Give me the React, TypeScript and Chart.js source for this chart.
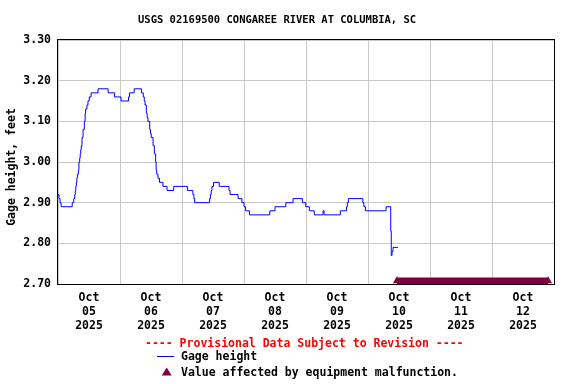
import React, { useEffect, useRef } from 'react';
import { Chart, registerables } from 'chart.js';

Chart.register(...registerables);

const TITLE = 'USGS 02169500 CONGAREE RIVER AT COLUMBIA, SC';
const Y_TITLE = 'Gage height, feet';
const PROVISIONAL = '---- Provisional Data Subject to Revision ----';
const SERIES_LABEL = 'Gage height';
const MARKER_LABEL = 'Value affected by equipment malfunction.';

// x axis: hours since Oct 05 2025 00:00
const DAY_LABELS = ['05', '06', '07', '08', '09', '10', '11', '12'];
const MONTH_LABEL = 'Oct';
const YEAR_LABEL = '2025';
const X_MIN = 0;
const X_MAX = 192;
const Y_TICKS = [2.7, 2.8, 2.9, 3.0, 3.1, 3.2, 3.3];

// gage height level changes (hour, feet)
const gageHours = [
  0, 0.4, 0.8, 1.2, 5.5, 6.1, 6.5, 6.7, 6.9, 7.1, 7.3, 7.5, 7.9, 8.1, 8.4, 8.6, 8.8, 9.0, 9.3, 9.7,
  10.2, 10.5, 10.7, 11.2, 11.6, 12.1, 12.8, 15.5, 19.4, 21.9, 24.4, 27.3, 27.7, 29.5, 32.3, 33.0,
  33.4, 33.7, 34.2, 34.5, 34.8, 35.5, 35.8, 36.1, 36.8, 37.3, 37.8, 38.0, 38.2, 38.7, 39.3, 40.6,
  42.2, 44.8, 50.1, 52.2, 52.6, 52.9, 58.7, 59.0, 59.3, 59.6, 60.2, 62.4, 66.2, 66.6, 69.7, 71.2,
  72.0, 72.6, 74.1, 82.0, 84.0, 88.2, 91.0, 94.6, 95.9, 97.3, 99.2, 102.6, 103.0, 109.3, 111.7,
  112.0, 112.4, 118.0, 118.4, 119.0, 127.0, 128.8, 129.0, 129.3, 129.7, 131.6,
];
const gageValues = [
  2.92, 2.91, 2.9, 2.89, 2.9, 2.91, 2.92, 2.93, 2.94, 2.95, 2.96, 2.97, 2.98, 3.0, 3.01, 3.02, 3.03, 3.04, 3.06, 3.08,
  3.1, 3.12, 3.13, 3.14, 3.15, 3.16, 3.17, 3.18, 3.17, 3.16, 3.15, 3.16, 3.17, 3.18, 3.17, 3.16,
  3.15, 3.14, 3.12, 3.11, 3.1, 3.08, 3.07, 3.06, 3.04, 3.02, 3.0, 2.98, 2.97, 2.96, 2.95, 2.94,
  2.93, 2.94, 2.93, 2.92, 2.91, 2.9, 2.91, 2.92, 2.93, 2.94, 2.95, 2.94, 2.93, 2.92, 2.91, 2.9,
  2.89, 2.88, 2.87, 2.88, 2.89, 2.9, 2.91, 2.9, 2.89, 2.88, 2.87, 2.88, 2.87, 2.88, 2.89,
  2.9, 2.91, 2.9, 2.89, 2.88, 2.89, 2.83, 2.77, 2.78, 2.79, 2.79,
];

// equipment malfunction period (hours), markers drawn along the bottom
const malfunctionHours = [131.2, 189.7];
const MARKER_Y = 2.7074;

const FONT_FAMILY = '"DejaVu Sans Mono", monospace';
const BLUE = '#0000ff';
const MAROON = '#80003f';
const GRID = '#c8c8c8';

export default function App() {
  const canvasRef = useRef<HTMLCanvasElement | null>(null);

  useEffect(() => {
    document.body.style.margin = '0';
    const canvas = canvasRef.current;
    if (!canvas) return;

    const decor = {
      id: 'decor',
      afterDraw(chart: any) {
        const ctx = chart.ctx;
        const a = chart.chartArea;
        ctx.save();
        // plot border
        ctx.strokeStyle = '#000';
        ctx.lineWidth = 1;
        ctx.strokeRect(Math.round(a.left) - 0.5, Math.round(a.top) - 0.5, Math.round(a.right - a.left) + 1, Math.round(a.bottom - a.top) + 1);
        // title
        ctx.fillStyle = '#000';
        ctx.textBaseline = 'middle';
        ctx.textAlign = 'left';
        ctx.font = `bold 10.5px ${FONT_FAMILY}`;
        ctx.fillText(TITLE, 138, 20);
        // y title
        ctx.font = `bold 11.5px ${FONT_FAMILY}`;
        ctx.save();
        ctx.translate(12, 167);
        ctx.rotate(-Math.PI / 2);
        ctx.textAlign = 'center';
        ctx.fillText(Y_TITLE, 0, 0);
        ctx.restore();
        // legend
        ctx.textAlign = 'left';
        ctx.fillStyle = '#ff0000';
        ctx.fillText(PROVISIONAL, 145, 344);
        ctx.strokeStyle = BLUE;
        ctx.beginPath();
        ctx.moveTo(157, 356.5);
        ctx.lineTo(174, 356.5);
        ctx.stroke();
        ctx.fillStyle = '#000';
        ctx.fillText(SERIES_LABEL, 181, 357);
        ctx.fillStyle = MAROON;
        ctx.beginPath();
        ctx.moveTo(166.7, 367.5);
        ctx.lineTo(171.7, 375.5);
        ctx.lineTo(161.7, 375.5);
        ctx.closePath();
        ctx.fill();
        ctx.fillStyle = '#000';
        ctx.fillText(MARKER_LABEL, 181, 373);
        ctx.restore();
      },
    };

    const chart = new Chart(canvas, {
      type: 'line',
      data: {
        datasets: [
          {
            label: SERIES_LABEL,
            data: gageHours.map((h, i) => ({ x: h, y: gageValues[i] })),
            borderColor: BLUE,
            borderWidth: 1,
            pointRadius: 0,
            stepped: true,
            fill: false,
          },
          {
            label: MARKER_LABEL,
            data: malfunctionHours.map((h) => ({ x: h, y: MARKER_Y })),
            borderColor: MAROON,
            backgroundColor: MAROON,
            borderWidth: 7,
            pointStyle: 'triangle',
            pointRadius: 4.7,
            pointBorderWidth: 0,
            pointBackgroundColor: MAROON,
            fill: false,
          },
        ],
      },
      options: {
        animation: false,
        responsive: false,
        maintainAspectRatio: false,
        layout: { padding: { left: 0, right: 22, top: 40, bottom: 0 } },
        plugins: {
          legend: { display: false },
          title: { display: false },
          tooltip: { enabled: false },
        },
        scales: {
          x: {
            type: 'linear',
            min: X_MIN,
            max: X_MAX,
            afterBuildTicks: (scale: any) => {
              const t = [];
              for (let v = X_MIN; v <= X_MAX; v += 12) t.push({ value: v });
              scale.ticks = t;
            },
            afterFit: (scale: any) => {
              scale.height = 100;
            },
            ticks: {
              autoSkip: false,
              maxRotation: 0,
              minRotation: 0,
              padding: 7,
              color: '#000',
              font: { family: FONT_FAMILY, size: 11.5, weight: 'bold', lineHeight: 1.22 },
              callback: (v: any) => {
                const n = Number(v);
                if (n % 24 !== 12) return '';
                return [MONTH_LABEL, DAY_LABELS[(n - 12) / 24], YEAR_LABEL];
              },
            },
            grid: {
              drawTicks: false,
              color: (c: any) => (c.tick && c.tick.value % 24 === 0 ? GRID : 'rgba(0,0,0,0)'),
              lineWidth: 1,
            },
            border: { display: false },
          },
          y: {
            min: 2.7,
            max: 3.3,
            afterBuildTicks: (scale: any) => {
              scale.ticks = Y_TICKS.map((v) => ({ value: v }));
            },
            afterFit: (scale: any) => {
              scale.width = 58;
            },
            ticks: {
              padding: 7,
              color: '#000',
              font: { family: FONT_FAMILY, size: 11.5, weight: 'bold' },
              callback: (v: any) => Number(v).toFixed(2),
            },
            grid: { drawTicks: false, color: GRID, lineWidth: 1 },
            border: { display: false },
          },
        },
      },
      plugins: [decor],
    } as any);

    return () => chart.destroy();
  }, []);

  return (
    <div style={{ width: 576, height: 384, background: '#fff' }}>
      <canvas ref={canvasRef} width={576} height={384} style={{ display: 'block' }} />
    </div>
  );
}
